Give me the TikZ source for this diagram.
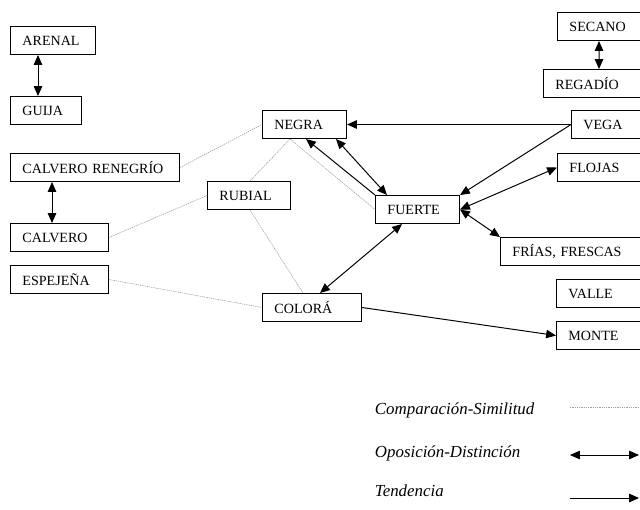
\documentclass[tikz,border=0pt]{standalone}
\usepackage{fontspec}
\setmainfont{Liberation Serif}
\usetikzlibrary{arrows.meta}

\begin{document}
\begin{tikzpicture}[x=0.025cm,y=-0.025cm,
  box/.style={draw,anchor=north west,minimum height=0.7cm,inner xsep=0.3cm,inner ysep=0pt,align=left,line width=0.7pt},
  simil/.style={gray!75,line width=0.4pt,dash pattern=on 1pt off 0.6pt},
  opp/.style={{Triangle[length=7pt,width=6pt]}-{Triangle[length=7pt,width=6pt]},line width=0.7pt},
  tend/.style={-{Triangle[length=7pt,width=6pt]},line width=0.7pt},
  legend/.style={anchor=west,font=\fontsize{12}{14}\selectfont\itshape}]
\fontsize{10}{12}\selectfont
\clip (0,0) rectangle (640,509);
% left column
\node[box,text width=1.525cm] (arenal) at (10,26) {ARENAL};
\node[box,text width=1.175cm] (guija) at (10,96) {GUIJA};
\node[box,text width=3.625cm] (calvren) at (10,153) {CALVERO RENEGRÍO};
\node[box,text width=1.85cm] (calvero) at (10,223) {CALVERO};
\node[box,text width=1.85cm] (espejena) at (10,265) {ESPEJEÑA};
% middle
\node[box,text width=1.475cm] (rubial) at (207,181) {RUBIAL};
\node[box,text width=1.5cm] (negra) at (262,110) {NEGRA};
\node[box,text width=1.5cm] (fuerte) at (375,195) {FUERTE};
\node[box,text width=1.875cm] (colora) at (262,293) {COLORÁ};
% right column (cut at the edge)
\node[box,text width=4cm] (secano) at (557,12) {SECANO};
\node[box,text width=4cm] (regadio) at (543,69) {REGADÍO};
\node[box,text width=4cm] (vega) at (571,110) {VEGA};
\node[box,text width=4cm] (flojas) at (557,153) {FLOJAS};
\node[box,text width=4cm] (frias) at (500,237) {FRÍAS, FRESCAS};
\node[box,text width=4cm] (valle) at (556,279) {VALLE};
\node[box,text width=4cm] (monte) at (556,321) {MONTE};
% comparacion
\draw[simil] (calvren.east) -- (negra.west);
\draw[simil] (calvero.east) -- (rubial.west);
\draw[simil] (espejena.east) -- (colora.west);
\draw[simil] ([xshift=0.7cm]negra.south west) -- ([xshift=1.075cm]rubial.north west);
\draw[simil] ([xshift=0.7cm]negra.south west) -- (fuerte.west);
\draw[simil] ([xshift=1.075cm]rubial.south west) -- ([xshift=1.025cm]colora.north west);
% oposicion
\draw[opp] ([xshift=0.7cm]arenal.south west) -- ([xshift=0.7cm]guija.north west);
\draw[opp] ([xshift=1.05cm]calvren.south west) -- ([xshift=1.05cm]calvero.north west);
\draw[opp] ([xshift=1.05cm]secano.south west) -- ([xshift=1.4cm]regadio.north west);
\draw[opp] ([xshift=-0.275cm]negra.south east) -- ([xshift=0.3cm]fuerte.north west);
\draw[opp] (fuerte.east) -- (flojas.west);
\draw[opp] (fuerte.east) -- (frias.north west);
\draw[opp] ([xshift=0.675cm]fuerte.south west) -- ([xshift=1.45cm]colora.north west);
% tendencia
\draw[tend] (vega.west) -- (negra.east);
\draw[tend] (vega.west) -- (fuerte.north east);
\draw[tend] (fuerte.north west) -- ([xshift=1.1cm]negra.south west);
\draw[tend] (colora.east) -- (monte.west);
% leyenda
\node[legend] (lsimil) at (370,410) {Comparación-Similitud};
\node[legend] (lopp) at (370,453) {Oposición-Distinción};
\node[legend] (ltend) at (370,491) {Tendencia};
\coordinate (s1) at (570,407);
\coordinate (s2) at (640,407);
\coordinate (o1) at (570,455);
\coordinate (o2) at (639,455);
\coordinate (t1) at (570,498);
\coordinate (t2) at (639,498);
\draw[simil] (s1) -- (s2);
\draw[opp] (o1) -- (o2);
\draw[tend] (t1) -- (t2);
\end{tikzpicture}
\end{document}
